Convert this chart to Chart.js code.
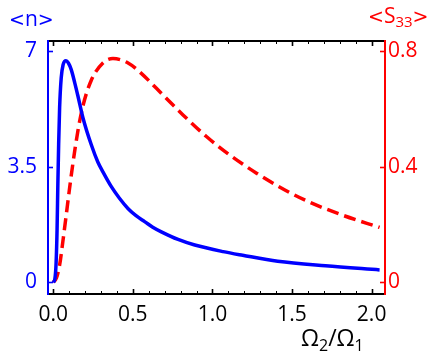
<!DOCTYPE html>
<html>
<head>
<meta charset="utf-8">
<script src="https://cdn.jsdelivr.net/npm/chart.js@4"></script>
<style>
  html, body { margin: 0; padding: 0; background: #fff; }
  #wrap { position: relative; width: 436px; height: 358px; }
  canvas { position: absolute; left: 0; top: 0; }
  .lab { position: absolute; font-family: "Open Sans", sans-serif; font-size: 21px; line-height: 1; white-space: nowrap; }
  .lab sub { font-size: 15px; vertical-align: -4px; line-height: 1; }
  .br { font-family: "DejaVu Sans", sans-serif; font-size: 19px; }
  #tx { font-size: 23px; }
  #tx sub { font-size: 16px; vertical-align: -5px; }
</style>
</head>
<body>
<div id="wrap">
  <canvas id="c" width="436" height="358"></canvas>
  <div class="lab" id="tn" style="left:9px; top:8px; color:#0000ff;"><span class="br">&lt;</span>n<span class="br">&gt;</span></div>
  <div class="lab" id="ts" style="left:368px; top:5px; color:#ff0000;"><span class="br">&lt;</span>S<sub>33</sub><span class="br">&gt;</span></div>
  <div class="lab" id="tx" style="left:301px; top:326px; color:#000;">&Omega;<sub>2</sub>/&Omega;<sub>1</sub></div>
</div>
<script>
// ---- data ----
const xBlue = [0, 0.01, 0.018, 0.024, 0.029, 0.034, 0.04, 0.05, 0.062, 0.08, 0.095, 0.113, 0.135, 0.155, 0.186, 0.239, 0.28, 0.312, 0.365, 0.417, 0.469, 0.52, 0.574, 0.625, 0.679, 0.784, 0.889, 1.067, 1.19, 1.41, 1.71, 2.05];
const nBlue = [0, 0.1, 0.6, 1.6, 3.0, 4.2, 5.3, 6.2, 6.6, 6.72, 6.65, 6.45, 6.05, 5.65, 5.0, 4.17, 3.65, 3.35, 2.9, 2.54, 2.24, 2.02, 1.84, 1.67, 1.53, 1.30, 1.13, 0.93, 0.82, 0.64, 0.50, 0.375];
const xRed = [0, 0.02, 0.04, 0.06, 0.082, 0.10, 0.123, 0.155, 0.186, 0.239, 0.312, 0.375, 0.47, 0.553, 0.648, 0.815, 0.962, 1.109, 1.277, 1.455, 1.6, 1.81, 2.05];
const sRed = [0, 0.015, 0.06, 0.14, 0.235, 0.315, 0.41, 0.525, 0.61, 0.70, 0.76, 0.775, 0.76, 0.724, 0.672, 0.58, 0.505, 0.441, 0.378, 0.32, 0.28, 0.234, 0.19];
const xTicks = [0, 0.5, 1.0, 1.5, 2.0];
const xMinorStep = 0.1;
const nTicks = [0, 3.5, 7];
const sTicks = [0, 0.4, 0.8];

const BLUE = '#0000ff', RED = '#ff0000', BLACK = '#000000';
const FONT = { family: '"Open Sans", sans-serif', size: 21 };

const axesPlugin = {
  id: 'axesPlugin',
  afterDraw(chart) {
    const { ctx, chartArea: a, scales } = chart;
    const sx = scales.x, sy = scales.y, sy1 = scales.y1;
    ctx.save();
    ctx.lineCap = 'butt';
    ctx.strokeStyle = BLACK;
    const nMinor = Math.round(sx.max / xMinorStep);
    for (let i = 0; i <= nMinor; i++) {
      const v = i * xMinorStep;
      if (v > sx.max) break;
      const major = xTicks.some(t => Math.abs(t - v) < 1e-9);
      const len = major ? 5 : 3;
      const px = Math.round(sx.getPixelForValue(v)) + 0.5;
      ctx.lineWidth = major ? 1.6 : 1;
      ctx.beginPath();
      ctx.moveTo(px, a.bottom); ctx.lineTo(px, a.bottom - len);
      ctx.moveTo(px, a.top); ctx.lineTo(px, a.top + len);
      ctx.stroke();
    }
    ctx.strokeStyle = BLUE; ctx.lineWidth = 1.6;
    nTicks.forEach(v => {
      const py = Math.round(sy.getPixelForValue(v)) + 0.5;
      ctx.beginPath(); ctx.moveTo(a.left, py); ctx.lineTo(a.left + 5, py); ctx.stroke();
    });
    ctx.strokeStyle = RED;
    sTicks.forEach(v => {
      const py = Math.round(sy1.getPixelForValue(v)) + 0.5;
      ctx.beginPath(); ctx.moveTo(a.right, py); ctx.lineTo(a.right - 5, py); ctx.stroke();
    });
    ctx.lineWidth = 2;
    ctx.strokeStyle = BLACK;
    ctx.beginPath();
    ctx.moveTo(a.left, a.top); ctx.lineTo(a.right, a.top);
    ctx.moveTo(a.left, a.bottom); ctx.lineTo(a.right, a.bottom);
    ctx.stroke();
    ctx.strokeStyle = BLUE;
    ctx.beginPath(); ctx.moveTo(a.left, a.top - 1); ctx.lineTo(a.left, a.bottom + 1); ctx.stroke();
    ctx.strokeStyle = RED;
    ctx.beginPath(); ctx.moveTo(a.right, a.top - 1); ctx.lineTo(a.right, a.bottom + 1); ctx.stroke();
    ctx.restore();
  }
};

new Chart(document.getElementById('c'), {
  type: 'line',
  data: {
    datasets: [
      {
        label: '<n>',
        data: xBlue.map((x, i) => ({ x, y: nBlue[i] })),
        yAxisID: 'y',
        borderColor: BLUE,
        borderWidth: 3.5,
        pointRadius: 0,
        cubicInterpolationMode: 'monotone',
        fill: false
      },
      {
        label: '<S33>',
        data: xRed.map((x, i) => ({ x, y: sRed[i] })),
        yAxisID: 'y1',
        borderColor: RED,
        borderWidth: 3.5,
        borderDash: [12, 6],
        pointRadius: 0,
        cubicInterpolationMode: 'monotone',
        fill: false
      }
    ]
  },
  options: {
    responsive: false,
    animation: false,
    devicePixelRatio: 1,
    layout: { padding: { top: 41, left: 0, right: 0, bottom: 0 } },
    plugins: { legend: { display: false }, tooltip: { enabled: false } },
    scales: {
      x: {
        type: 'linear',
        min: -0.033, max: 2.084,
        afterBuildTicks: s => { s.ticks = xTicks.map(v => ({ value: v })); },
        ticks: { callback: v => v.toFixed(1), color: BLACK, font: FONT, padding: 8, maxRotation: 0, autoSkip: false },
        grid: { display: false, drawTicks: false },
        border: { display: false },
        afterFit: s => { s.height = 64; }
      },
      y: {
        type: 'linear', position: 'left',
        min: -0.355, max: 7.318,
        afterBuildTicks: s => { s.ticks = nTicks.map(v => ({ value: v })); },
        ticks: { callback: v => String(v), color: BLUE, font: FONT, padding: 11, autoSkip: false },
        grid: { display: false, drawTicks: false },
        border: { display: false },
        afterFit: s => { s.width = 48; }
      },
      y1: {
        type: 'linear', position: 'right',
        min: -0.0406, max: 0.836,
        afterBuildTicks: s => { s.ticks = sTicks.map(v => ({ value: v })); },
        ticks: { callback: v => (v === 0 ? '0' : v.toFixed(1)), color: RED, font: FONT, padding: 3, autoSkip: false },
        grid: { display: false, drawTicks: false },
        border: { display: false },
        afterFit: s => { s.width = 51; }
      }
    }
  },
  plugins: [axesPlugin]
});
</script>
</body>
</html>
